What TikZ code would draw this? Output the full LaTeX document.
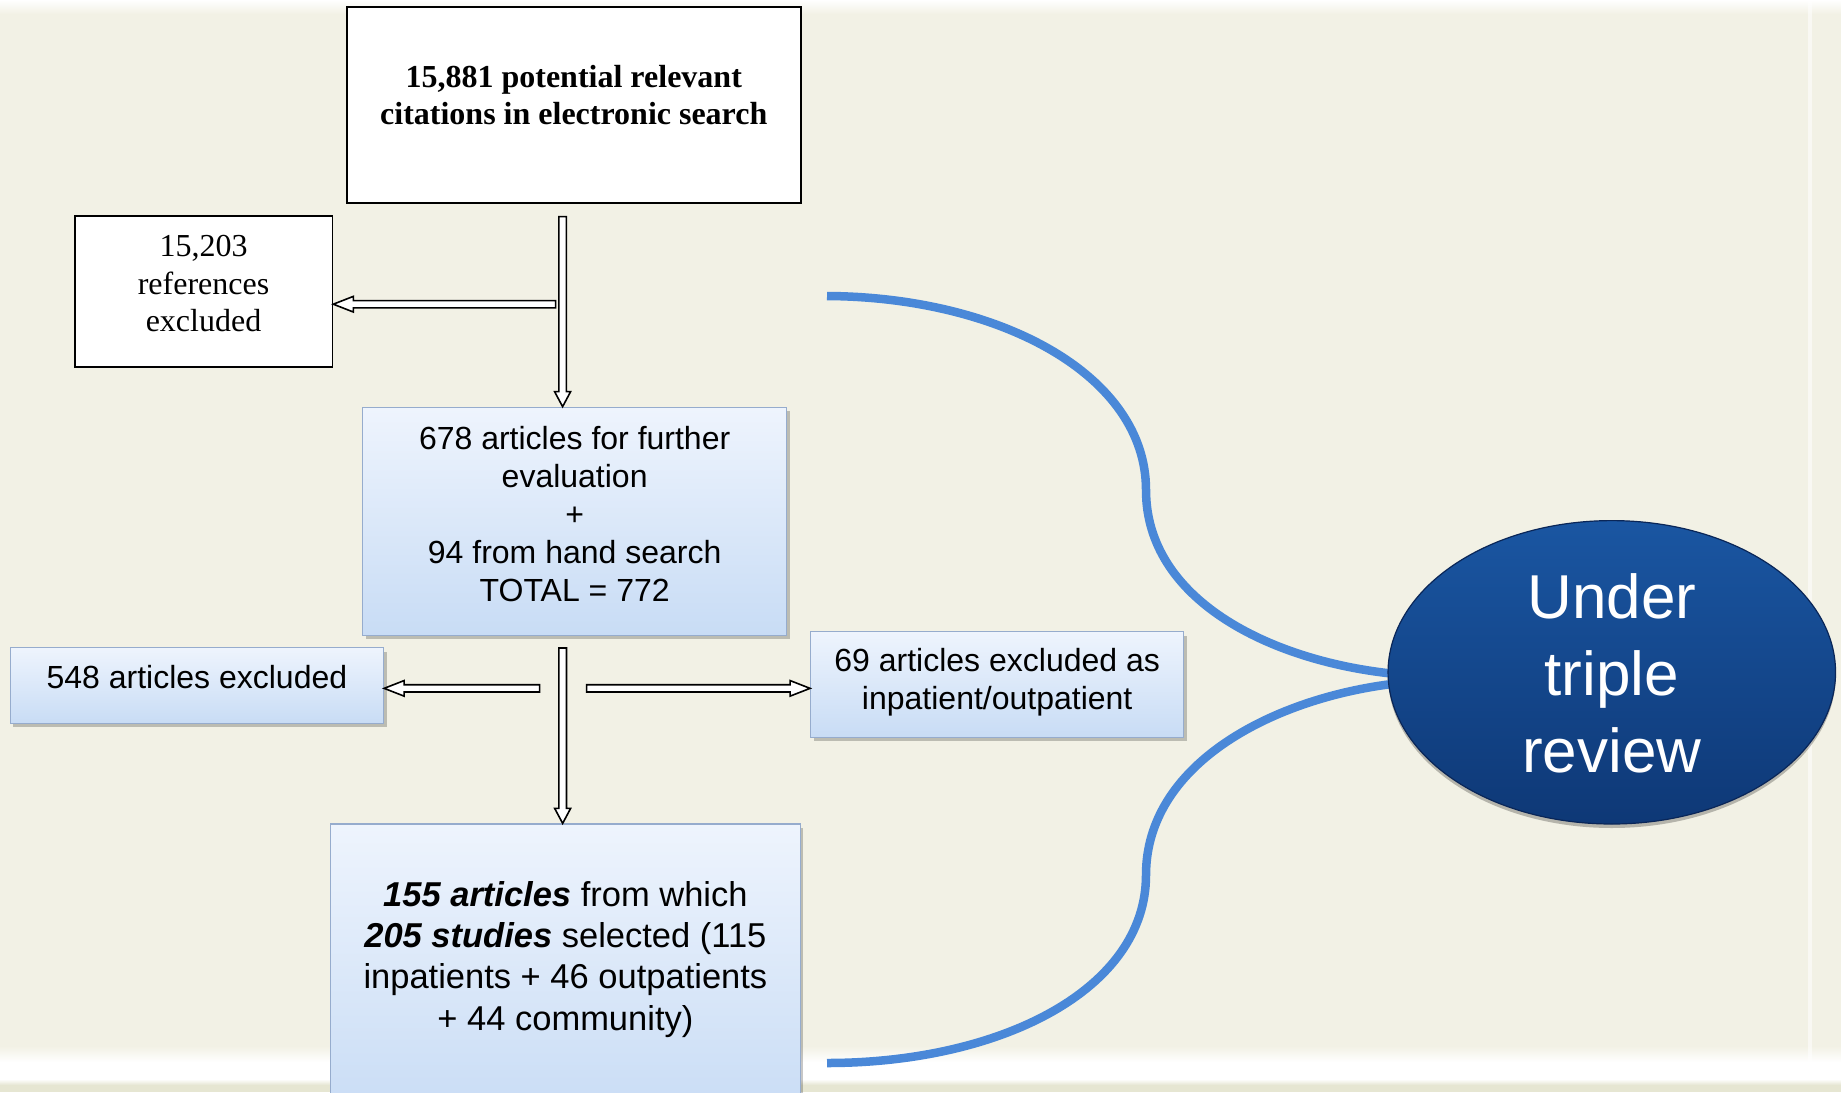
\documentclass[tikz,border=0pt]{standalone}
\usepackage{fontspec}
\setmainfont{Liberation Serif}
\newfontfamily\arialf{Liberation Sans}
\usetikzlibrary{calc,shapes.geometric,shadows}
\definecolor{bgc}{RGB}{242,241,229}
\definecolor{bgbot}{RGB}{230,230,210}
\definecolor{boxtop}{RGB}{238,244,253}
\definecolor{boxbot}{RGB}{200,220,245}
\definecolor{boxline}{RGB}{150,172,205}
\definecolor{curveblue}{RGB}{74,136,216}
\definecolor{elltop}{RGB}{26,86,162}
\definecolor{ellbot}{RGB}{14,56,118}
\definecolor{ellline}{RGB}{10,38,88}
\pgfdeclarelayer{bg}
\pgfsetlayers{bg,main}
\newcommand\txtlines[1]{\begin{tabular}[t]{@{}c@{}}#1\end{tabular}}
\newcommand\blkdown[2]{\draw[blockarr] ($(#1)+(-3.8,0)$) -- ($(#2)+(-3.8,-15)$) -- ($(#2)+(-8,-15)$) -- (#2) -- ($(#2)+(8,-15)$) -- ($(#2)+(3.8,-15)$) -- ($(#1)+(3.8,0)$) -- cycle;}
\newcommand\blkleft[2]{\draw[blockarr] ($(#1)+(0,-3.6)$) -- ($(#2)+(20,-3.6)$) -- ($(#2)+(20,-7.8)$) -- (#2) -- ($(#2)+(20,7.8)$) -- ($(#2)+(20,3.6)$) -- ($(#1)+(0,3.6)$) -- cycle;}
\newcommand\blkright[2]{\draw[blockarr] ($(#1)+(0,-3.6)$) -- ($(#2)+(-20,-3.6)$) -- ($(#2)+(-20,-7.8)$) -- (#2) -- ($(#2)+(-20,7.8)$) -- ($(#2)+(-20,3.6)$) -- ($(#1)+(0,3.6)$) -- cycle;}
\begin{document}
\begin{tikzpicture}[x=1pt,y=-1pt,
  plainbox/.style={draw=black, line width=1.8pt, fill=white, inner sep=0pt},
  bluebox/.style={draw=boxline, line width=1.3pt, top color=boxtop, bottom color=boxbot, inner sep=0pt,
    drop shadow={shadow xshift=3pt, shadow yshift=-4pt, fill=black, opacity=0.22}},
  blockarr/.style={draw=black, fill=white, line width=1.6pt, line join=miter},
  brace/.style={draw=curveblue, line width=8.5pt},
  serifbody/.style={font=\fontsize{32}{37.6}\selectfont},
  sansbody/.style={font=\arialf\fontsize{32}{38}\selectfont}]
\path[use as bounding box] (0,0) rectangle (1841,1092);
\clip (0,0) rectangle (1841,1092);

% boxes
\node[plainbox, serifbody, minimum width=454.1pt, text height=80pt, text depth=115.4pt] (n1) at (573.75,105)
  {\bfseries\txtlines{15,881 potential relevant\\citations in electronic search}};
\node[plainbox, serifbody, minimum width=257.8pt, text height=41pt, text depth=110.3pt] (n2) at (203.5,291.35)
  {\txtlines{15,203\\references\\excluded}};
\node[bluebox, sansbody, minimum width=423.7pt, text height=42pt, text depth=186pt] (n3) at (574.65,521.3)
  {\txtlines{678 articles for further\\evaluation\\+\\94 from hand search\\TOTAL = 772}};
\node[bluebox, sansbody, minimum width=373.2pt, text height=40.6pt, text depth=35pt] (n4) at (196.9,685.5)
  {\txtlines{548 articles excluded}};
\node[bluebox, sansbody, minimum width=373pt, text height=40pt, text depth=65.6pt] (n5) at (997.2,684.5)
  {\txtlines{69 articles excluded as\\inpatient/outpatient}};
\node[bluebox, font=\arialf\fontsize{34.5}{41.4}\selectfont, minimum width=469.6pt, text height=82pt, text depth=214pt] (n6) at (565.4,972)
  {\txtlines{\textbf{\textit{155 articles}} from which\\\textbf{\textit{205 studies}} selected (115\\inpatients + 46 outpatients\\+ 44 community)}};
\node[ellipse, minimum width=447.5pt, minimum height=303.4pt, inner sep=0pt, text=white,
  top color=elltop, bottom color=ellbot, draw=ellline, line width=1.2pt,
  drop shadow={shadow xshift=0pt, shadow yshift=-4pt, fill=black, opacity=0.25},
  font=\arialf\fontsize{62}{77}\selectfont, text height=45pt, text depth=153pt] (ell) at (1611.8,672.3)
  {\txtlines{Under\\triple\\review}};

% block arrows
\coordinate (a1s) at ($(n1.south)+(-11.15,13)$);
\coordinate (a1e) at (a1s |- n3.north);
\coordinate (a2s) at ($(a1s)+(-7,87.6)$);
\coordinate (a2e) at (a2s -| n2.east);
\coordinate (a3s) at ($(n3.south)+(-12,12)$);
\coordinate (a3e) at (a3s |- n6.north);
\coordinate (a4s) at ($(a3s)+(-23,40.4)$);
\coordinate (a4e) at (a4s -| n4.east);
\coordinate (a5s) at ($(a3s)+(24,40.4)$);
\coordinate (a5e) at (a5s -| n5.west);
\blkdown{a1s}{a1e}
\blkleft{a2s}{a2e}
\blkdown{a3s}{a3e}
\blkleft{a4s}{a4e}
\blkright{a5s}{a5e}

% curves
\coordinate (c1s) at (827,296);
\coordinate (c1e) at ($(ell.west)+(2,1)$);
\coordinate (c2s) at ($(ell.west)+(2,12)$);
\coordinate (c2e) at (827,1063);

\begin{pgfonlayer}{bg}
\fill[bgc] (0,0) rectangle (1841,1092);
\shade[top color=white, bottom color=bgc] (0,0) rectangle (1841,14);
\shade[top color=bgc, bottom color=white] (0,1046) rectangle (1841,1062);
\fill[white] (0,1062) rectangle (1841,1079);
\shade[top color=white, bottom color=bgbot] (0,1079) rectangle (1841,1085);
\fill[bgbot] (0,1085) rectangle (1841,1092);
\fill[white, opacity=0.55] (1808,0) rectangle (1812,1062);
\draw[brace] (c1s) .. controls (1000,297) and (1146,375) .. (1146,490) .. controls (1146,600) and (1270,660) .. (c1e);
\draw[brace] (c2s) .. controls (1270,700) and (1146,765) .. (1146,875) .. controls (1146,990) and (1000,1063) .. (c2e);
\end{pgfonlayer}
\end{tikzpicture}
\end{document}
